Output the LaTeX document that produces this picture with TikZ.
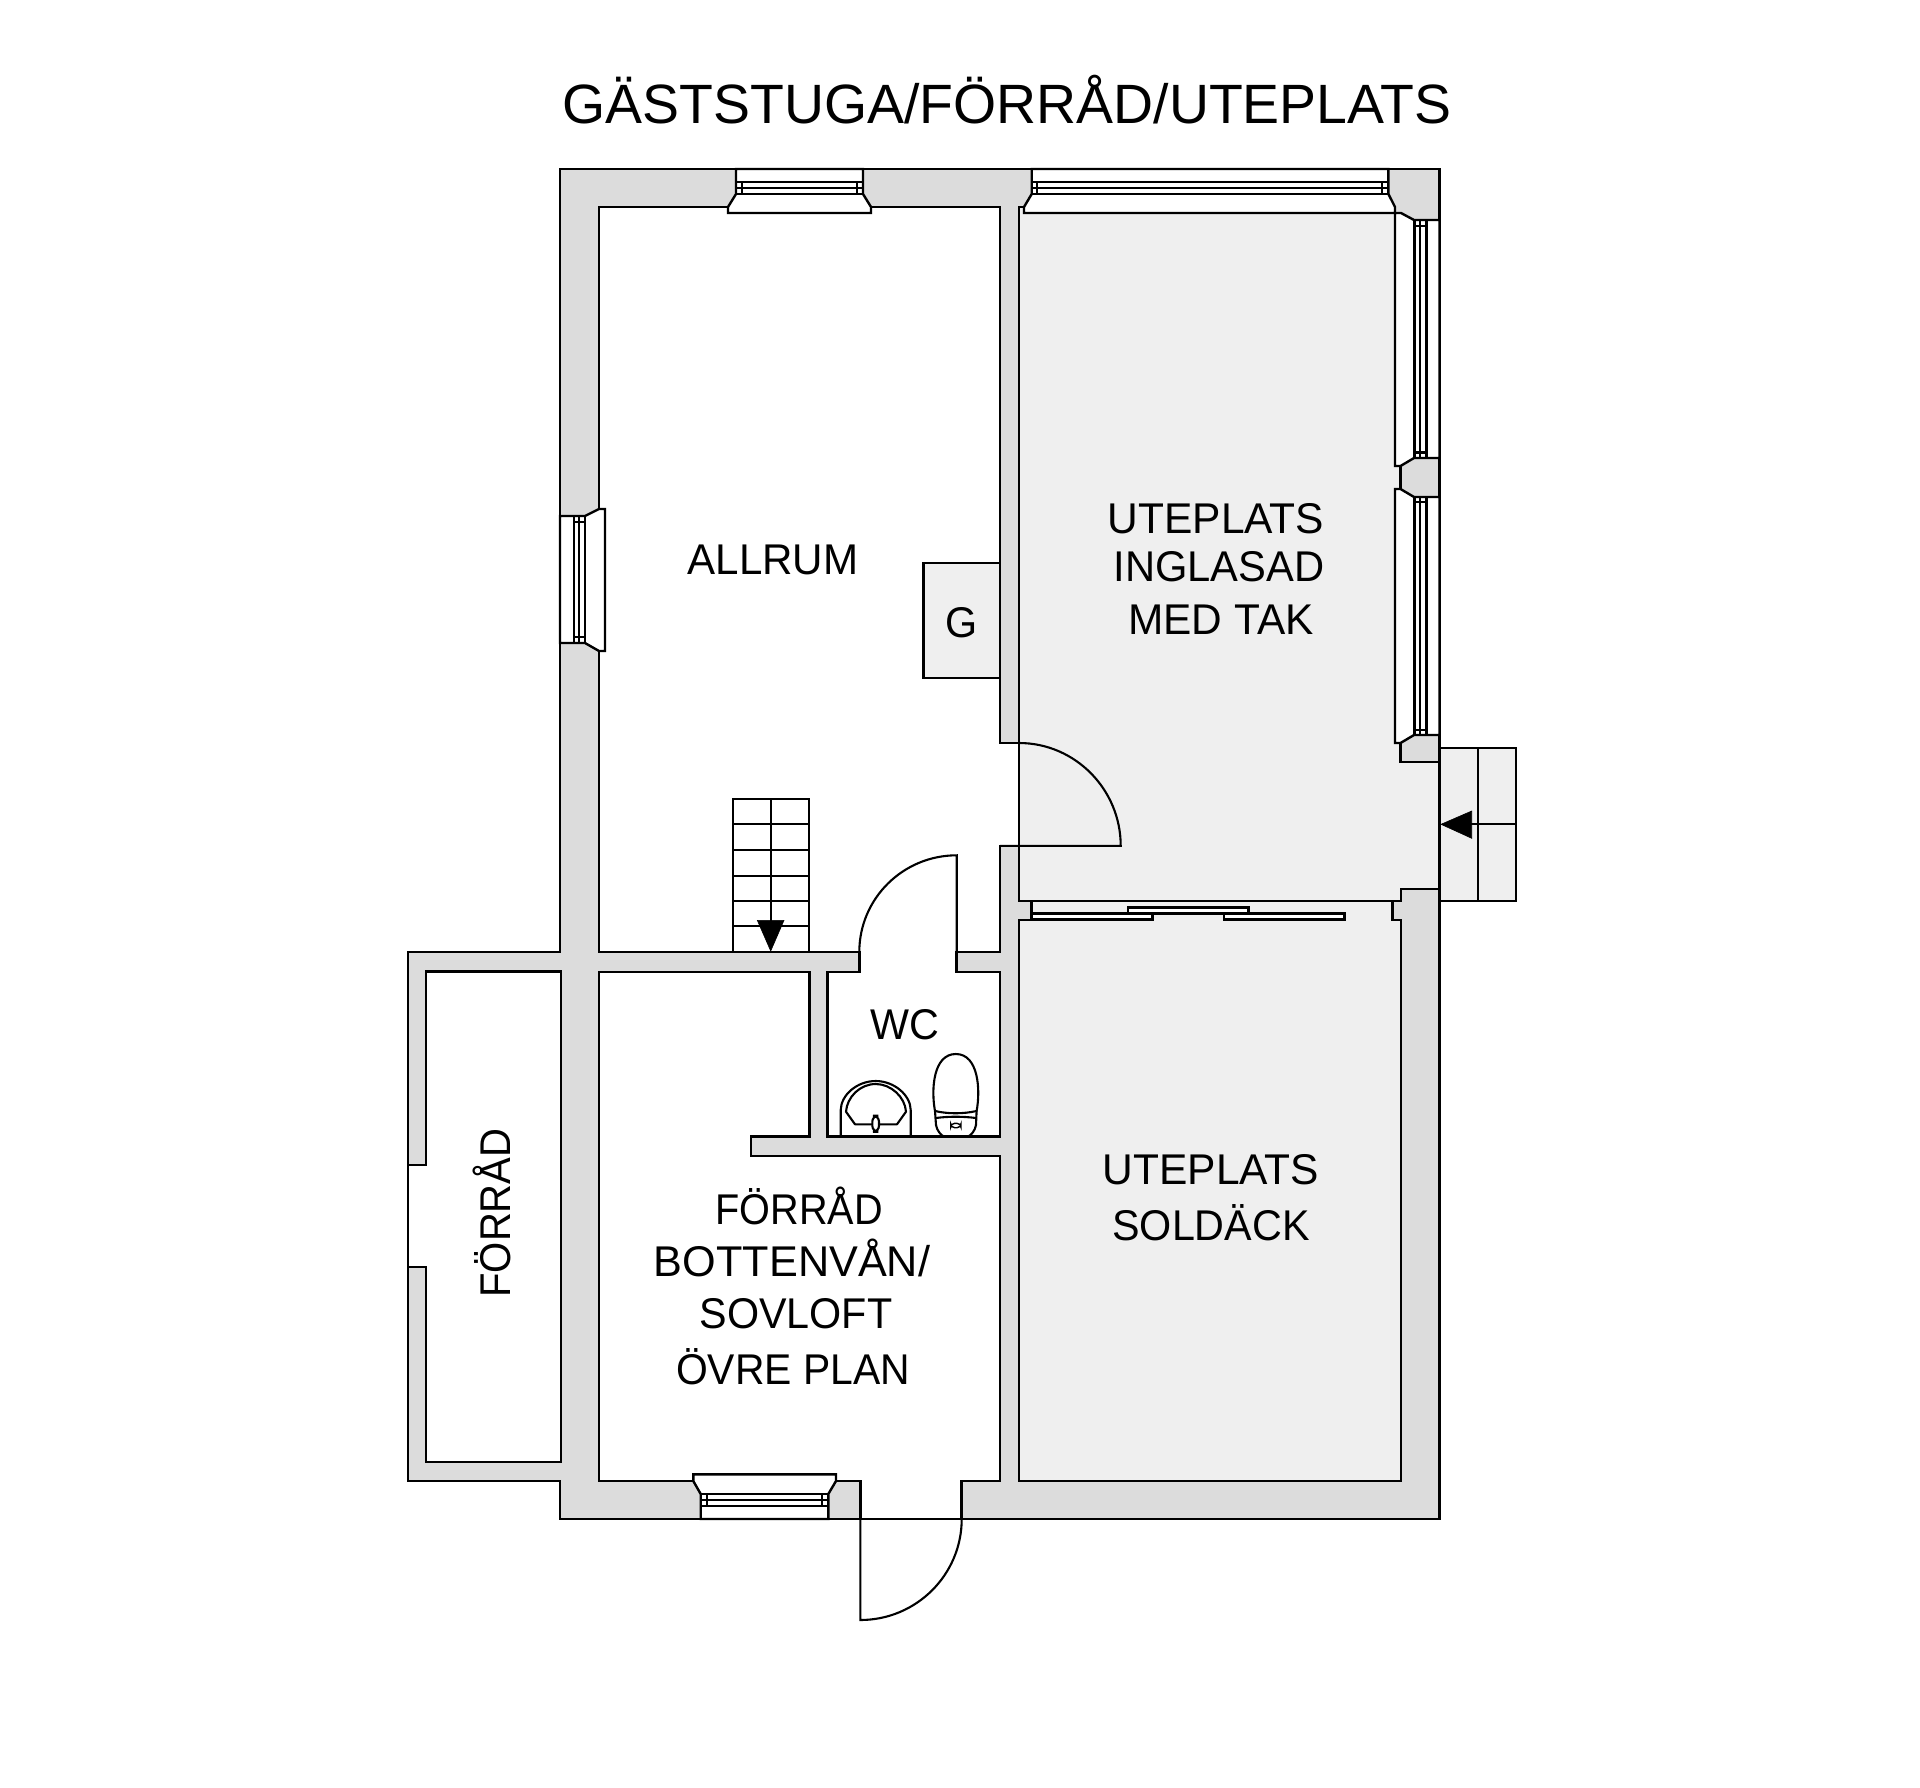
\documentclass[tikz,border=0pt]{standalone}
\usepackage{fontspec}
\setmainfont{Liberation Sans}
\newfontfamily\roomfont[FakeStretch=0.96]{Liberation Sans}
\definecolor{wallgrey}{HTML}{DCDCDC}
\definecolor{floorgrey}{HTML}{EFEFEF}
\tikzset{
  wall/.style={fill=wallgrey,draw=black,line width=1.35pt,line join=miter},
  whiteroom/.style={fill=white,draw=black,line width=1.35pt,line join=miter},
  greyroom/.style={fill=floorgrey,draw=black,line width=1.35pt,line join=miter},
  win/.style={fill=white,draw=black,line width=1.2pt,line join=miter},
  sash/.style={draw=black,line width=1.1pt},
  thin part/.style={draw=black,line width=1.05pt},
  door/.style={draw=black,line width=1.05pt},
  steparrow/.style={fill=black,draw=black,line width=.3pt},
  room/.style={inner sep=0pt,anchor=base,transform shape,font=\roomfont\fontsize{21.5}{24}\selectfont},
  title/.style={inner sep=0pt,anchor=base,font=\fontsize{27.7}{30}\selectfont}
}
\begin{document}
\begin{tikzpicture}[x=0.5pt,y=-0.5pt]
\path[use as bounding box,fill=white] (0,0) rectangle (1920,1787);

% outer body
\path[wall] (560,169) -- (1439.5,169) -- (1439.5,1519) -- (560,1519) -- (560,1481) -- (408,1481) -- (408,952) -- (560,952) -- cycle;

% outer steps
\path[thin part,fill=floorgrey] (1439.5,748.3) rectangle (1516,901.3);
\draw[thin part] (1477.7,748.3) -- (1477.7,901.3);
\draw[thin part] (1471,824.3) -- (1516,824.3);
\path[steparrow] (1441,824.3) -- (1471.7,811) -- (1471.7,838.3) -- cycle;

% side store
\path[whiteroom] (561,971.4) -- (561,1462) -- (426,1462) -- (426,1267) -- (408,1267) -- (408,1165) -- (426,1165) -- (426,971.4) -- cycle;

% living room with WC
\path[whiteroom] (599,207) -- (1000,207) -- (1000,743) -- (1019,743) -- (1019,846) -- (1000,846) -- (1000,952) -- (956.7,952) -- (956.7,972) -- (1000,972) -- (1000,1136.7) -- (827.3,1136.7) -- (827.3,972) -- (859.3,972) -- (859.3,952) -- (599,952) -- cycle;

% lower store
\path[whiteroom] (599,972) -- (809.3,972) -- (809.3,1136.7) -- (751,1136.7) -- (751,1156) -- (1000,1156) -- (1000,1481) -- (961.7,1481) -- (961.7,1519) -- (860.3,1519) -- (860.3,1481) -- (599,1481) -- cycle;

% terraces
\path[greyroom] (1019,207) -- (1024,207) -- (1024,213) -- (1395,213) -- (1395,466) -- (1400.5,466) -- (1400.5,489) -- (1395,489) -- (1395,743) -- (1400.5,743) -- (1400.5,762) -- (1439.5,762) -- (1439.5,889) -- (1401,889) -- (1401,901) -- (1019,901) -- cycle;
\path[greyroom] (1019,920) -- (1031.7,920) -- (1031.7,901) -- (1392.7,901) -- (1392.7,920) -- (1401,920) -- (1401,1481) -- (1019,1481) -- cycle;

% sliding door
\path[win] (1031.7,913.3) rectangle (1152.3,919.3);
\path[win] (1127.7,907.3) rectangle (1248.3,913.3);
\path[win] (1224,913.3) rectangle (1344.3,919.3);

% fireplace box
\path[thin part,fill=floorgrey] (923.5,563) rectangle (1000,678);

% window top left
\path[win] (736,169) -- (863,169) -- (863,194) -- (871,207) -- (871,213) -- (728,213) -- (728,207) -- (736,194) -- cycle;
\draw[sash] (736,182) -- (863,182) (736,188) -- (863,188) (736,194) -- (863,194) (741.7,182) -- (741.7,194) (856.7,182) -- (856.7,194);

% window top right
\path[win] (1031.7,169) -- (1388.4,169) -- (1388.4,194) -- (1395,207) -- (1395,213) -- (1024,213) -- (1024,207) -- (1031.7,194) -- cycle;
\draw[sash] (1031.7,182) -- (1388.4,182) (1031.7,188) -- (1388.4,188) (1031.7,194) -- (1388.4,194) (1037,182) -- (1037,194) (1382,182) -- (1382,194);

% window right upper
\path[win] (1395,213) -- (1401,213) -- (1414,220) -- (1439.5,220) -- (1439.5,458) -- (1414,458) -- (1400.5,466) -- (1395,466) -- cycle;
\draw[sash] (1414.5,220) -- (1414.5,458) (1420,220) -- (1420,458) (1426.5,220) -- (1426.5,458) (1414.5,226) -- (1426.5,226) (1414.5,452.5) -- (1426.5,452.5);

% window right lower
\path[win] (1395,489) -- (1400.5,489) -- (1414,497) -- (1439.5,497) -- (1439.5,735) -- (1414,735) -- (1400.5,743) -- (1395,743) -- cycle;
\draw[sash] (1414.5,497) -- (1414.5,735) (1420,497) -- (1420,735) (1426.5,497) -- (1426.5,735) (1414.5,502.3) -- (1426.5,502.3) (1414.5,730) -- (1426.5,730);

% window left
\path[win] (560,516) -- (585,516) -- (599,509) -- (605,509) -- (605,651) -- (599,651) -- (585,643) -- (560,643) -- cycle;
\draw[sash] (574,516) -- (574,643) (579.3,516) -- (579.3,643) (585,516) -- (585,643) (574,521.7) -- (585,521.7) (574,637) -- (585,637);

% window bottom
\path[win] (700.7,1519) -- (828.3,1519) -- (828.3,1494) -- (836,1481) -- (836,1474.3) -- (693.3,1474.3) -- (693.3,1481) -- (700.7,1494) -- cycle;
\draw[sash] (700.7,1494) -- (828.3,1494) (700.7,1500) -- (828.3,1500) (700.7,1505.7) -- (828.3,1505.7) (706.7,1494) -- (706.7,1505.7) (822.3,1494) -- (822.3,1505.7);

% doors
\draw[door] (1019,743) .. controls (1075.2,743) and (1120.7,789.5) .. (1120.7,845.8) -- (1000,845.8);
\draw[door] (956.7,952) -- (956.7,855.3) .. controls (903,855.3) and (859.3,898.5) .. (859.3,952);
\draw[door] (860.3,1519) -- (860.3,1620) .. controls (916.3,1620) and (961.7,1574.7) .. (961.7,1519);
\draw[door] (860.3,1519) -- (961.7,1519);

% inner stair
\draw[thin part] (732.7,952) -- (732.7,799) -- (809.3,799) -- (809.3,952);
\draw[thin part] (732.7,824.3) -- (809.3,824.3) (732.7,850) -- (809.3,850) (732.7,875.7) -- (809.3,875.7) (732.7,901) -- (809.3,901) (732.7,926.3) -- (809.3,926.3);
\draw[thin part] (770.7,799) -- (770.7,925);
\path[steparrow] (757.3,920.3) -- (784,920.3) -- (770.7,951) -- cycle;

% wash basin
\draw[thin part] (840.7,1136.7) -- (840.7,1110) .. controls (841,1095) and (857,1081) .. (875.7,1081) .. controls (894,1081) and (910.5,1095) .. (910.7,1110) -- (910.7,1136.7);
\draw[thin part,line join=round] (846,1111.7) -- (855,1124.3) -- (897,1124.3) -- (906,1111.7) .. controls (905,1097) and (891,1084) .. (875.7,1084) .. controls (860,1084) and (847,1097) .. (846,1111.7) -- cycle;
\path[thin part,fill=white,rounded corners=3] (872.3,1115.7) rectangle (879,1131.7);

% toilet
\draw[thin part,line join=round] (935,1111) .. controls (931,1090) and (933,1054) .. (955.8,1054) .. controls (978.6,1054) and (980.6,1090) .. (976.6,1111) .. controls (963,1114) and (948,1114) .. (935,1111) -- cycle;
\draw[thin part,line join=round] (935,1111) -- (936,1125) .. controls (937,1131) and (941,1135) .. (944,1136.7) -- (968,1136.7) .. controls (971,1135) and (975,1131) .. (976,1125) -- (976.6,1111);
\draw[thin part] (936,1118) .. controls (948,1116.3) and (963,1116.3) .. (976,1118);
\path[thin part,rounded corners=2,line width=.7pt] (950.7,1123.3) rectangle (961,1127.7);

% texts
\node[title] (heading) at (1007,124) {GÄSTSTUGA/FÖRRÅD/UTEPLATS};
\node[room,xscale=1.02] (allrum) at (773,574) {ALLRUM};
\node[room] (gtext) at (962,637) {G};
\node[room,xscale=1.03] (ute1) at (1216,533) {UTEPLATS};
\node[room,xscale=1.01] (ute2) at (1219,581) {INGLASAD};
\node[room,xscale=1.027] (ute3) at (1221,634) {MED TAK};
\node[room] (wc) at (905,1039) {WC};
\node[room,xscale=1.03] (sol1) at (1211,1184) {UTEPLATS};
\node[room] (sol2) at (1211,1240) {SOLDÄCK};
\node[room,xscale=.96] (st1) at (799,1224.5) {FÖRRÅD};
\node[room,xscale=1.047] (st2) at (792,1276) {BOTTENVÅN/};
\node[room] (st3) at (796,1328) {SOVLOFT};
\node[room,xscale=.99] (st4) at (793,1384) {ÖVRE PLAN};
\node[room,rotate=90,xscale=.97] (forrad) at (510,1213) {FÖRRÅD};
\end{tikzpicture}
\end{document}
